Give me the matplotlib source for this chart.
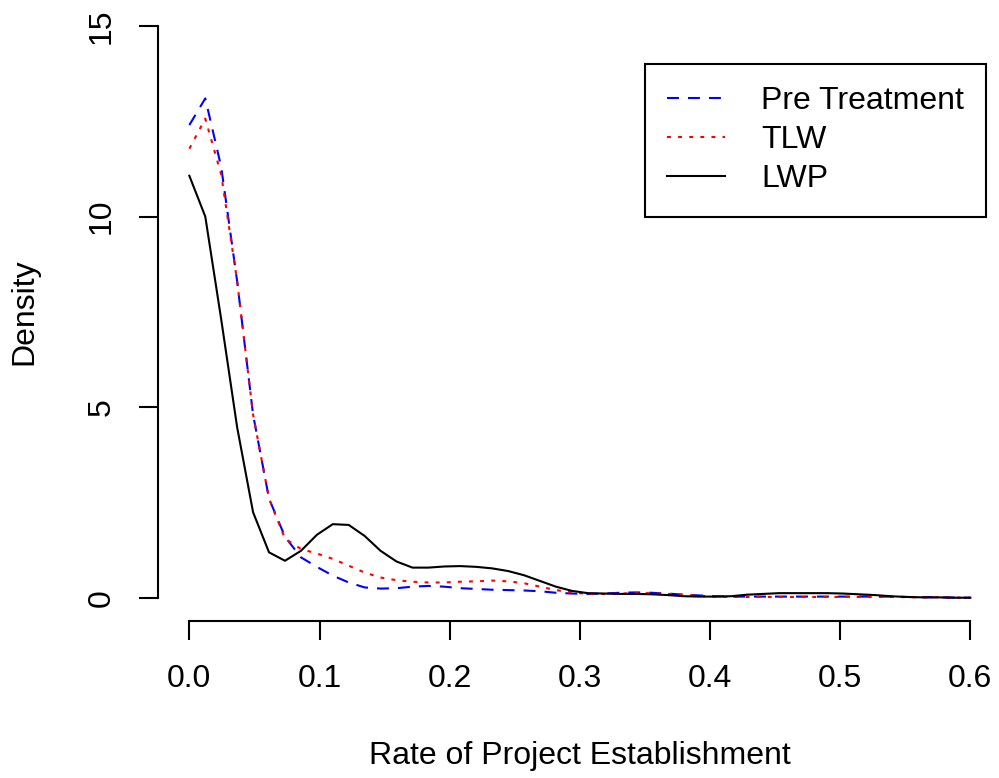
import numpy as np
import matplotlib
matplotlib.use("Agg")
from matplotlib import pyplot as plt

plt.rcParams['font.family'] = ['Liberation Sans', 'DejaVu Sans']
plt.rcParams['lines.scale_dashes'] = False

# density estimates on 50 points from 0 to 0.6
x = np.linspace(0, 0.6, 50)

pre_treatment = [12.4, 13.1, 11.3, 8.3, 4.8, 2.6, 1.6, 1.06, 0.81, 0.58,
                 0.40, 0.27, 0.24, 0.25, 0.29, 0.31, 0.29, 0.25, 0.23, 0.21,
                 0.20, 0.19, 0.17, 0.13, 0.11, 0.10, 0.11, 0.13, 0.14, 0.13,
                 0.11, 0.08, 0.06, 0.04, 0.03, 0.03, 0.03, 0.03, 0.03, 0.03,
                 0.03, 0.03, 0.03, 0.03, 0.03, 0.02, 0.015, 0.01, 0.005, 0.0]

tlw = [11.78, 12.57, 11.1, 8.3, 4.8, 2.6, 1.55, 1.28, 1.16, 1.02,
       0.84, 0.66, 0.53, 0.46, 0.42, 0.40, 0.40, 0.42, 0.43, 0.45,
       0.43, 0.38, 0.29, 0.20, 0.14, 0.10, 0.10, 0.11, 0.12, 0.12,
       0.10, 0.08, 0.05, 0.03, 0.02, 0.02, 0.02, 0.02, 0.02, 0.02,
       0.02, 0.02, 0.02, 0.02, 0.02, 0.015, 0.01, 0.01, 0.005, 0.0]

lwp = [11.07, 10.0, 7.3, 4.47, 2.24, 1.19, 0.97, 1.23, 1.65, 1.93,
       1.91, 1.62, 1.23, 0.95, 0.79, 0.79, 0.82, 0.83, 0.81, 0.77,
       0.70, 0.59, 0.44, 0.29, 0.18, 0.12, 0.11, 0.10, 0.10, 0.09,
       0.07, 0.04, 0.03, 0.03, 0.04, 0.08, 0.10, 0.12, 0.12, 0.12,
       0.12, 0.11, 0.09, 0.07, 0.04, 0.02, 0.01, 0.01, 0.0, 0.0]

labels = ["Pre Treatment", "TLW", "LWP"]

W, H = 999, 778
fs = 23
fig = plt.figure(figsize=(W / 100, H / 100), dpi=100)
ax = fig.add_axes([158.1 / W, (H - 620.6) / H, 843.5 / W, 617.5 / H])

lw = 1.5
ax.plot(x, pre_treatment, color="blue", lw=lw, dashes=(8.6, 6.5), label=labels[0])
ax.plot(x, tlw, color="red", lw=lw, dashes=(2.8, 5.2), label=labels[1])
ax.plot(x, lwp, color="black", lw=lw, label=labels[2])

ax.set_xlim(-0.024, 0.624)
ax.set_ylim(-0.6, 15.6)

for s in ["top", "right"]:
    ax.spines[s].set_visible(False)
ax.spines["left"].set_bounds(0, 15)
ax.spines["bottom"].set_bounds(0, 0.6)
ax.spines["left"].set_linewidth(lw)
ax.spines["bottom"].set_linewidth(lw)

ax.set_xticks([0.0, 0.1, 0.2, 0.3, 0.4, 0.5, 0.6])
ax.set_xticklabels(["0.0", "0.1", "0.2", "0.3", "0.4", "0.5", "0.6"])
ax.set_yticks([0, 5, 10, 15])
ax.set_yticklabels(["0", "5", "10", "15"], rotation=90, va="center")
ax.tick_params(length=14, width=lw, labelsize=fs)
ax.tick_params(axis="x", pad=17)
ax.tick_params(axis="y", pad=16)

ax.set_xlabel("Rate of Project Establishment", fontsize=fs, labelpad=34)
ax.set_ylabel("Density", fontsize=fs, labelpad=34)

leg = ax.legend(loc="upper left", bbox_to_anchor=(645 / W, 1 - 64 / H),
                bbox_transform=fig.transFigure, fontsize=fs, fancybox=False,
                framealpha=1, edgecolor="black", handlelength=1.8,
                borderpad=0.7, labelspacing=0.28, handletextpad=1.13,
                borderaxespad=0)
leg.get_frame().set_linewidth(lw)

fig.savefig("out.png", dpi=100)
